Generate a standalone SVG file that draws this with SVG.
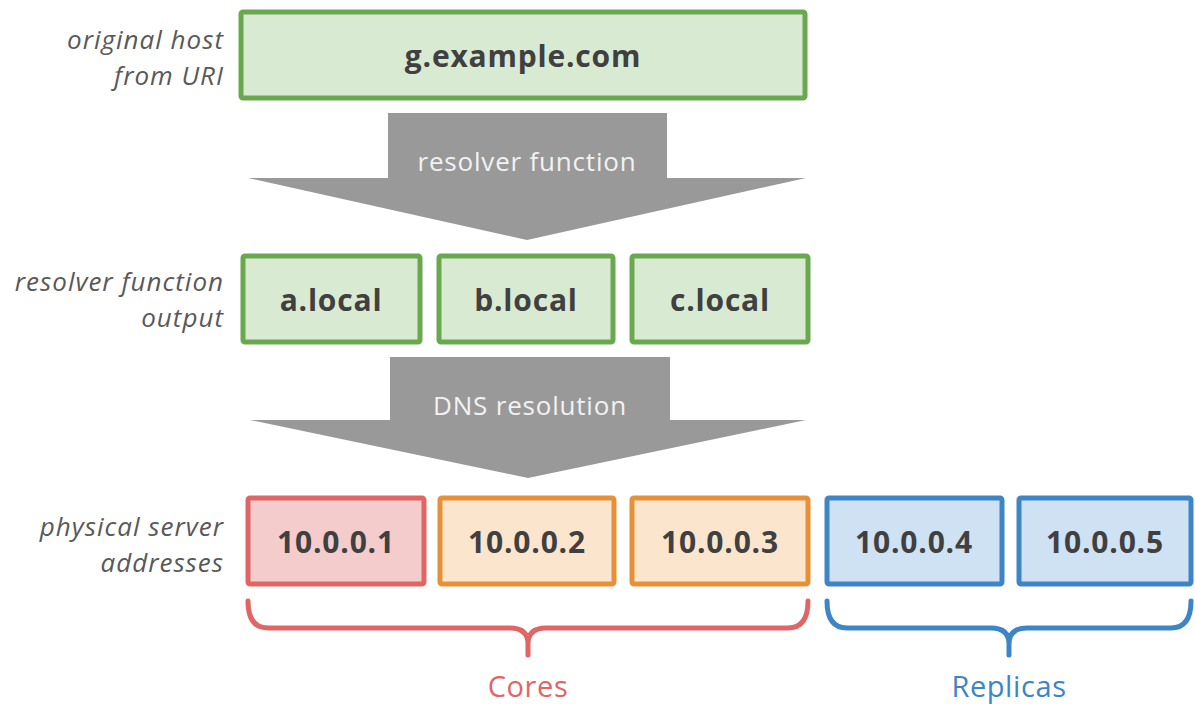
<svg xmlns="http://www.w3.org/2000/svg" width="1195" height="706" viewBox="0 0 1195 706">
<style>
.lbl{font-family:"Open Sans","Liberation Sans",sans-serif;font-style:italic;font-size:26px;letter-spacing:1px;fill:#595959;text-anchor:end}
.nt{font-family:"Open Sans","Liberation Sans",sans-serif;font-weight:bold;font-size:30px;letter-spacing:0.8px;fill:#404040;text-anchor:middle}
.at{font-family:"Open Sans","Liberation Sans",sans-serif;font-size:26px;letter-spacing:0.8px;fill:#f2f2f2;text-anchor:middle}
.bt{font-family:"Open Sans","Liberation Sans",sans-serif;font-size:29px;letter-spacing:0.6px;text-anchor:middle}
.g{fill:#d9ead3;stroke:#6aa84f;stroke-width:5}
.r{fill:#f4cccc;stroke:#e06666;stroke-width:5}
.o{fill:#fce5cd;stroke:#e69138;stroke-width:5}
.b{fill:#cfe2f3;stroke:#3d85c6;stroke-width:5}
.arrow{fill:#999999}
.brace{fill:none;stroke-width:5;stroke-linecap:round;stroke-linejoin:round}
</style>
<rect width="1195" height="706" fill="#ffffff"/>
<g id="labels">
<text class="lbl" x="224" y="49">original host</text>
<text class="lbl" x="224" y="85">from URI</text>
<text class="lbl" x="224" y="291">resolver function</text>
<text class="lbl" x="224" y="327">output</text>
<text class="lbl" x="224" y="536">physical server</text>
<text class="lbl" x="224" y="572">addresses</text>
</g>
<g id="connectors">
<g id="arrow-resolver">
<polygon class="arrow" points="388,113 667,113 667,178 806,178 527,240 248,178 388,178"/>
<text class="at" x="527" y="171">resolver function</text>
</g>
<g id="arrow-dns">
<polygon class="arrow" points="390,357 670,357 670,420 806,420 528,478 250,420 390,420"/>
<text class="at" x="530" y="415">DNS resolution</text>
</g>
</g>
<g id="node-host"><rect class="g" x="241" y="12" width="564" height="86" rx="2"/><text class="nt" x="523" y="67">g.example.com</text></g>
<g id="node-a"><rect class="g" x="243" y="256" width="177" height="86" rx="2"/><text class="nt" x="331" y="311">a.local</text></g>
<g id="node-b"><rect class="g" x="439" y="256" width="174" height="86" rx="2"/><text class="nt" x="526" y="311">b.local</text></g>
<g id="node-c"><rect class="g" x="632" y="256" width="176" height="86" rx="2"/><text class="nt" x="720" y="311">c.local</text></g>
<g id="node-ip1"><rect class="r" x="248" y="498" width="176" height="86" rx="2"/><text class="nt" x="336" y="553">10.0.0.1</text></g>
<g id="node-ip2"><rect class="o" x="440" y="498" width="174" height="86" rx="2"/><text class="nt" x="527" y="553">10.0.0.2</text></g>
<g id="node-ip3"><rect class="o" x="632" y="498" width="176" height="86" rx="2"/><text class="nt" x="720" y="553">10.0.0.3</text></g>
<g id="node-ip4"><rect class="b" x="827" y="498" width="175" height="86" rx="2"/><text class="nt" x="914" y="553">10.0.0.4</text></g>
<g id="node-ip5"><rect class="b" x="1019" y="498" width="172" height="86" rx="2"/><text class="nt" x="1105" y="553">10.0.0.5</text></g>
<g id="brace-cores">
<path class="brace" stroke="#e06666" d="M248,601 Q248,628 268,628 L510,628 Q528,628 528,644 Q528,628 546,628 L788,628 Q808,628 808,601 M528,644 L528,655"/>
<text class="bt" x="528" y="697" fill="#e06666">Cores</text>
</g>
<g id="brace-replicas">
<path class="brace" stroke="#3d85c6" d="M827,601 Q827,628 847,628 L991,628 Q1009,628 1009,644 Q1009,628 1027,628 L1171,628 Q1191,628 1191,601 M1009,644 L1009,655"/>
<text class="bt" x="1009" y="697" fill="#3d85c6">Replicas</text>
</g>
</svg>
